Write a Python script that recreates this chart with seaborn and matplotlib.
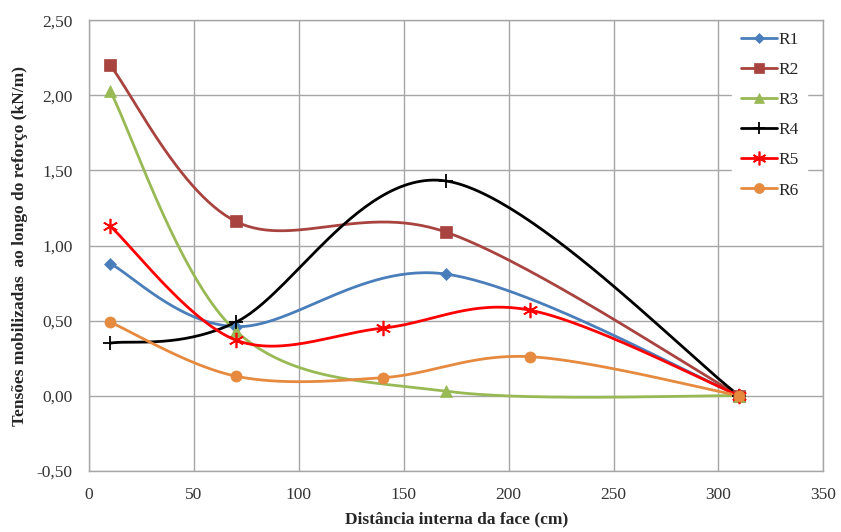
import numpy as np
import pandas as pd
import matplotlib
matplotlib.use("Agg")
import matplotlib.pyplot as plt
from matplotlib.lines import Line2D
from matplotlib.ticker import FuncFormatter, MultipleLocator
import seaborn as sns

# Measured tension along each reinforcement layer
x_r1 = [10, 70, 170, 310]
y_r1 = [0.88, 0.46, 0.81, 0.00]
x_r2 = [10, 70, 170, 310]
y_r2 = [2.20, 1.16, 1.09, 0.00]
x_r3 = [10, 70, 170, 310]
y_r3 = [2.03, 0.43, 0.03, 0.00]
x_r4 = [10, 70, 170, 310]
y_r4 = [0.35, 0.49, 1.43, 0.00]
x_r5 = [10, 70, 140, 210, 310]
y_r5 = [1.13, 0.37, 0.45, 0.57, 0.00]
x_r6 = [10, 70, 140, 210, 310]
y_r6 = [0.49, 0.13, 0.12, 0.26, 0.00]

series = [
    ("R1", x_r1, y_r1, "#4A7EBB", "D", 6, 0),
    ("R2", x_r2, y_r2, "#A8433F", "s", 8, 0),
    ("R3", x_r3, y_r3, "#98B954", "^", 8, 0),
    ("R4", x_r4, y_r4, "#000000", "+", 10, 1.3),
    ("R5", x_r5, y_r5, "#FF0000", (6, 2, 0), 11, 1.2),
    ("R6", x_r6, y_r6, "#E58A3F", "o", 8, 0),
]


def smooth(xs, ys, n=60):
    """Bezier smoothing through every point (Catmull-Rom style control points)."""
    p = np.column_stack([xs, ys]).astype(float)
    out = []
    for i in range(len(p) - 1):
        p0 = p[i - 1] if i > 0 else p[i]
        p1, p2 = p[i], p[i + 1]
        p3 = p[i + 2] if i + 2 < len(p) else p[i + 1]
        c1 = p1 + (p2 - p0) / 6.0
        c2 = p2 - (p3 - p1) / 6.0
        t = np.linspace(0, 1, n)[:, None]
        seg = ((1 - t) ** 3) * p1 + 3 * ((1 - t) ** 2) * t * c1 + 3 * (1 - t) * t ** 2 * c2 + t ** 3 * p2
        out.append(seg if i == 0 else seg[1:])
    return np.vstack(out)


sns.set_theme(style="white")
plt.rcParams["font.family"] = ["Liberation Serif", "DejaVu Serif"]

fig = plt.figure(figsize=(8.41, 5.32), dpi=100)
ax = fig.add_axes([0.106, 0.115, 0.873, 0.847])

handles = []
for name, xs, ys, color, marker, ms, mew in series:
    curve = smooth(xs, ys)
    df = pd.DataFrame({"x": curve[:, 0], "y": curve[:, 1]})
    sns.lineplot(data=df, x="x", y="y", sort=False, color=color, linewidth=2.0,
                 ax=ax, zorder=3, estimator=None)
    pts = pd.DataFrame({"x": xs, "y": ys})
    ax.plot(pts["x"], pts["y"], linestyle="none", marker=marker, markersize=ms,
            color=color, markeredgewidth=mew if mew else 0.5,
            markeredgecolor=color, zorder=4)
    handles.append(Line2D([0], [0], color=color, linewidth=2.0, marker=marker,
                          markersize=ms * 0.9, markeredgewidth=mew if mew else 0.5,
                          markeredgecolor=color, label=name))

ax.set_xlim(0, 350)
ax.set_ylim(-0.5, 2.5)
ax.xaxis.set_major_locator(MultipleLocator(50))
ax.yaxis.set_major_locator(MultipleLocator(0.5))
ax.yaxis.set_major_formatter(FuncFormatter(lambda v, _: f"{v:.2f}".replace(".", ",")))
ax.xaxis.set_major_formatter(FuncFormatter(lambda v, _: f"{v:.0f}"))
ax.grid(True, color="#A6A6A6", linewidth=1.0)
ax.set_axisbelow(True)
for s in ax.spines.values():
    s.set_color("#A6A6A6")
    s.set_linewidth(1.0)
ax.tick_params(axis="x", length=0, labelsize=12.5, colors="#333333", pad=12)
ax.tick_params(axis="y", length=0, labelsize=12.5, colors="#333333", pad=12)

ax.set_xlabel("Distância interna da face (cm)", fontsize=12.5, fontweight="bold", labelpad=6)
ax.set_ylabel("Tensões mobilizadas  ao longo do reforço (kN/m)", fontsize=12.5,
              fontweight="bold", labelpad=6)

leg = ax.legend(handles=handles, loc="upper right", bbox_to_anchor=(0.99, 1.012),
                frameon=True, fontsize=12.5, labelspacing=0.8, handlelength=2.1,
                handletextpad=0.05, borderpad=0.5, fancybox=False)
leg.get_frame().set_edgecolor("white")
leg.get_frame().set_facecolor("white")
leg.get_frame().set_alpha(1.0)

fig.savefig("out.png", dpi=100)
